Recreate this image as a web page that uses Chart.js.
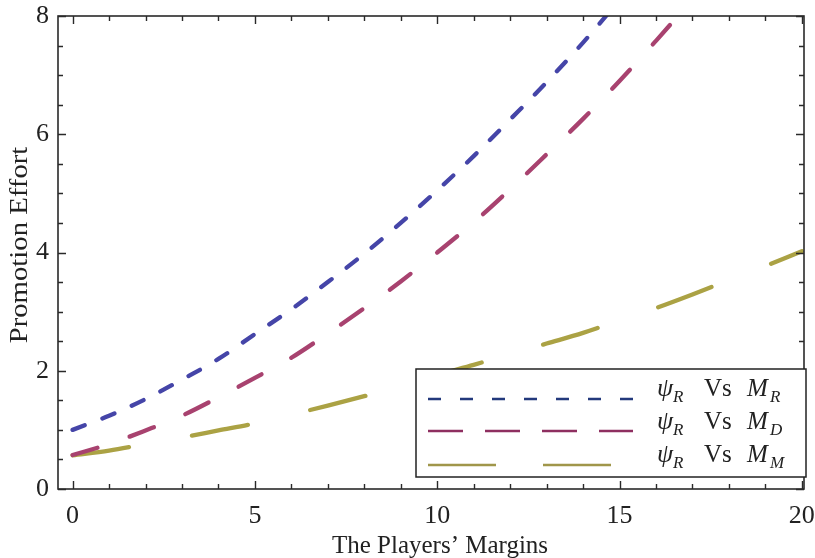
<!DOCTYPE html>
<html>
<head>
<meta charset="utf-8">
<script src="https://cdn.jsdelivr.net/npm/chart.js@4/dist/chart.umd.min.js"></script>
<style>
  html, body { margin: 0; padding: 0; background: #fff; }
  #wrap { width: 815px; height: 558px; }
</style>
</head>
<body>
<div id="wrap"><canvas id="effortChart" width="815" height="558"></canvas></div>
<script>
// values, one per integer margin
const margins = [0, 1, 2, 3, 4, 5, 6, 7, 8, 9, 10, 11, 12, 13, 14, 15, 16, 17, 18, 19, 20];
const psiVsMR = [1.0, 1.24, 1.52, 1.85, 2.2, 2.62, 3.04, 3.5, 3.98, 4.5, 5.05, 5.63, 6.25, 6.88, 7.55, 8.27];
const psiVsMD = [0.575, 0.76, 0.99, 1.24, 1.55, 1.88, 2.22, 2.63, 3.06, 3.51, 4.0, 4.51, 5.07, 5.66, 6.26, 6.9, 7.58, 8.28];
const psiVsMM = [0.57, 0.65, 0.76, 0.87, 0.99, 1.11, 1.26, 1.41, 1.57, 1.74, 1.93, 2.1, 2.28, 2.46, 2.64, 2.85, 3.06, 3.29, 3.53, 3.77, 4.02];
const seriesNames = ["R", "D", "M"];
const xTickLabels = [0, 5, 10, 15, 20];
const yTickLabels = [0, 2, 4, 6, 8];

const serif = "'Liberation Serif', 'Times New Roman', serif";
const lineColors = ["#4545a8", "#a8426f", "#aba244"];
const legendColors = ["#23397c", "#8e2f60", "#a0964a"];
const plotDashes = [[13, 19], [26, 34], [57, 64]];
const legendDashes = [[13, 19], [35, 22], [68, 47]];

function toPoints(values) {
  return values.map((v, i) => ({ x: margins[i], y: v }));
}

// frame, inward ticks, axis titles and the legend box
const decorations = {
  id: "decorations",
  afterDatasetsDraw(chart) {
    const ctx = chart.ctx;
    const a = chart.chartArea;
    const xs = chart.scales.x, ys = chart.scales.y;
    ctx.save();
    ctx.strokeStyle = "#2a2a2a";
    ctx.lineWidth = 1.6;
    ctx.strokeRect(a.left, a.top, a.right - a.left, a.bottom - a.top);

    ctx.lineWidth = 1.4;
    ctx.beginPath();
    for (let v = 0; v <= 20; v++) {
      const px = Math.round(xs.getPixelForValue(v)) + 0.5;
      const len = v % 5 === 0 ? 8 : 5;
      ctx.moveTo(px, a.bottom); ctx.lineTo(px, a.bottom - len);
      ctx.moveTo(px, a.top); ctx.lineTo(px, a.top + len);
    }
    for (let v = 0; v <= 8; v += 0.5) {
      const py = Math.round(ys.getPixelForValue(v)) + 0.5;
      const len = v % 2 === 0 ? 8 : 5;
      ctx.moveTo(a.left, py); ctx.lineTo(a.left + len, py);
      ctx.moveTo(a.right, py); ctx.lineTo(a.right - len, py);
    }
    ctx.stroke();

    // axis titles
    ctx.fillStyle = "#222";
    ctx.font = "25px " + serif;
    ctx.textAlign = "center";
    ctx.textBaseline = "alphabetic";
    ctx.fillText("The Players\u2019 Margins", 440, 553);
    ctx.save();
    ctx.translate(27, 245);
    ctx.rotate(-Math.PI / 2);
    ctx.scale(1.15, 1);
    ctx.fillText("Promotion Effort", 0, 0);
    ctx.restore();

    // legend
    const box = { left: 416, top: 369, right: 806, bottom: 477 };
    ctx.fillStyle = "#fff";
    ctx.fillRect(box.left, box.top, box.right - box.left, box.bottom - box.top);
    ctx.strokeStyle = "#222";
    ctx.lineWidth = 1.5;
    ctx.strokeRect(box.left, box.top, box.right - box.left, box.bottom - box.top);

    const rows = [
      { lineY: 399, lineEnd: 640, base: 396 },
      { lineY: 431, lineEnd: 633, base: 429 },
      { lineY: 465, lineEnd: 612, base: 462 }
    ];
    rows.forEach((r, i) => {
      ctx.save();
      ctx.strokeStyle = legendColors[i];
      ctx.lineWidth = 2.6;
      ctx.setLineDash(legendDashes[i]);
      ctx.beginPath();
      ctx.moveTo(428, r.lineY);
      ctx.lineTo(r.lineEnd, r.lineY);
      ctx.stroke();
      ctx.restore();

      ctx.fillStyle = "#222";
      ctx.textAlign = "left";
      ctx.font = "italic 26px " + serif;
      ctx.fillText("\u03C8", 657, r.base);
      ctx.font = "italic 17px " + serif;
      ctx.fillText("R", 673, r.base + 6);
      ctx.font = "25px " + serif;
      ctx.fillText("Vs", 704, r.base);
      ctx.font = "italic 25px " + serif;
      ctx.fillText("M", 747, r.base);
      ctx.font = "italic 17px " + serif;
      ctx.fillText(seriesNames[i], 770, r.base + 6);
    });
    ctx.restore();
  }
};

const datasets = [psiVsMR, psiVsMD, psiVsMM].map((vals, i) => ({
  label: "psi_R Vs M_" + seriesNames[i],
  data: toPoints(vals),
  borderColor: lineColors[i],
  borderWidth: 4.3,
  borderDash: plotDashes[i],
  borderCapStyle: "round",
  pointRadius: 0,
  fill: false,
  cubicInterpolationMode: "monotone",
  clip: 0
}));

new Chart(document.getElementById("effortChart").getContext("2d"), {
  type: "line",
  data: { datasets: datasets },
  options: {
    responsive: false,
    animation: false,
    events: [],
    layout: { padding: { top: 16, right: 11, left: 0, bottom: 0 } },
    plugins: { legend: { display: false }, tooltip: { enabled: false } },
    scales: {
      x: {
        type: "linear",
        min: -0.4,
        max: 20.06,
        grid: { display: false, drawTicks: false },
        border: { display: false },
        afterBuildTicks: (s) => { s.ticks = xTickLabels.map(v => ({ value: v })); },
        afterFit: (s) => { s.height = 69; s.paddingLeft = 0; s.paddingRight = 0; },
        ticks: {
          autoSkip: false,
          maxRotation: 0,
          padding: 12,
          color: "#222",
          font: { family: serif, size: 26 }
        }
      },
      y: {
        min: 0,
        max: 8,
        grid: { display: false, drawTicks: false },
        border: { display: false },
        afterBuildTicks: (s) => { s.ticks = yTickLabels.map(v => ({ value: v })); },
        afterFit: (s) => { s.width = 58; s.paddingTop = 0; s.paddingBottom = 0; },
        ticks: {
          autoSkip: false,
          padding: 9,
          color: "#222",
          font: { family: serif, size: 26 }
        }
      }
    }
  },
  plugins: [decorations]
});
</script>
</body>
</html>
